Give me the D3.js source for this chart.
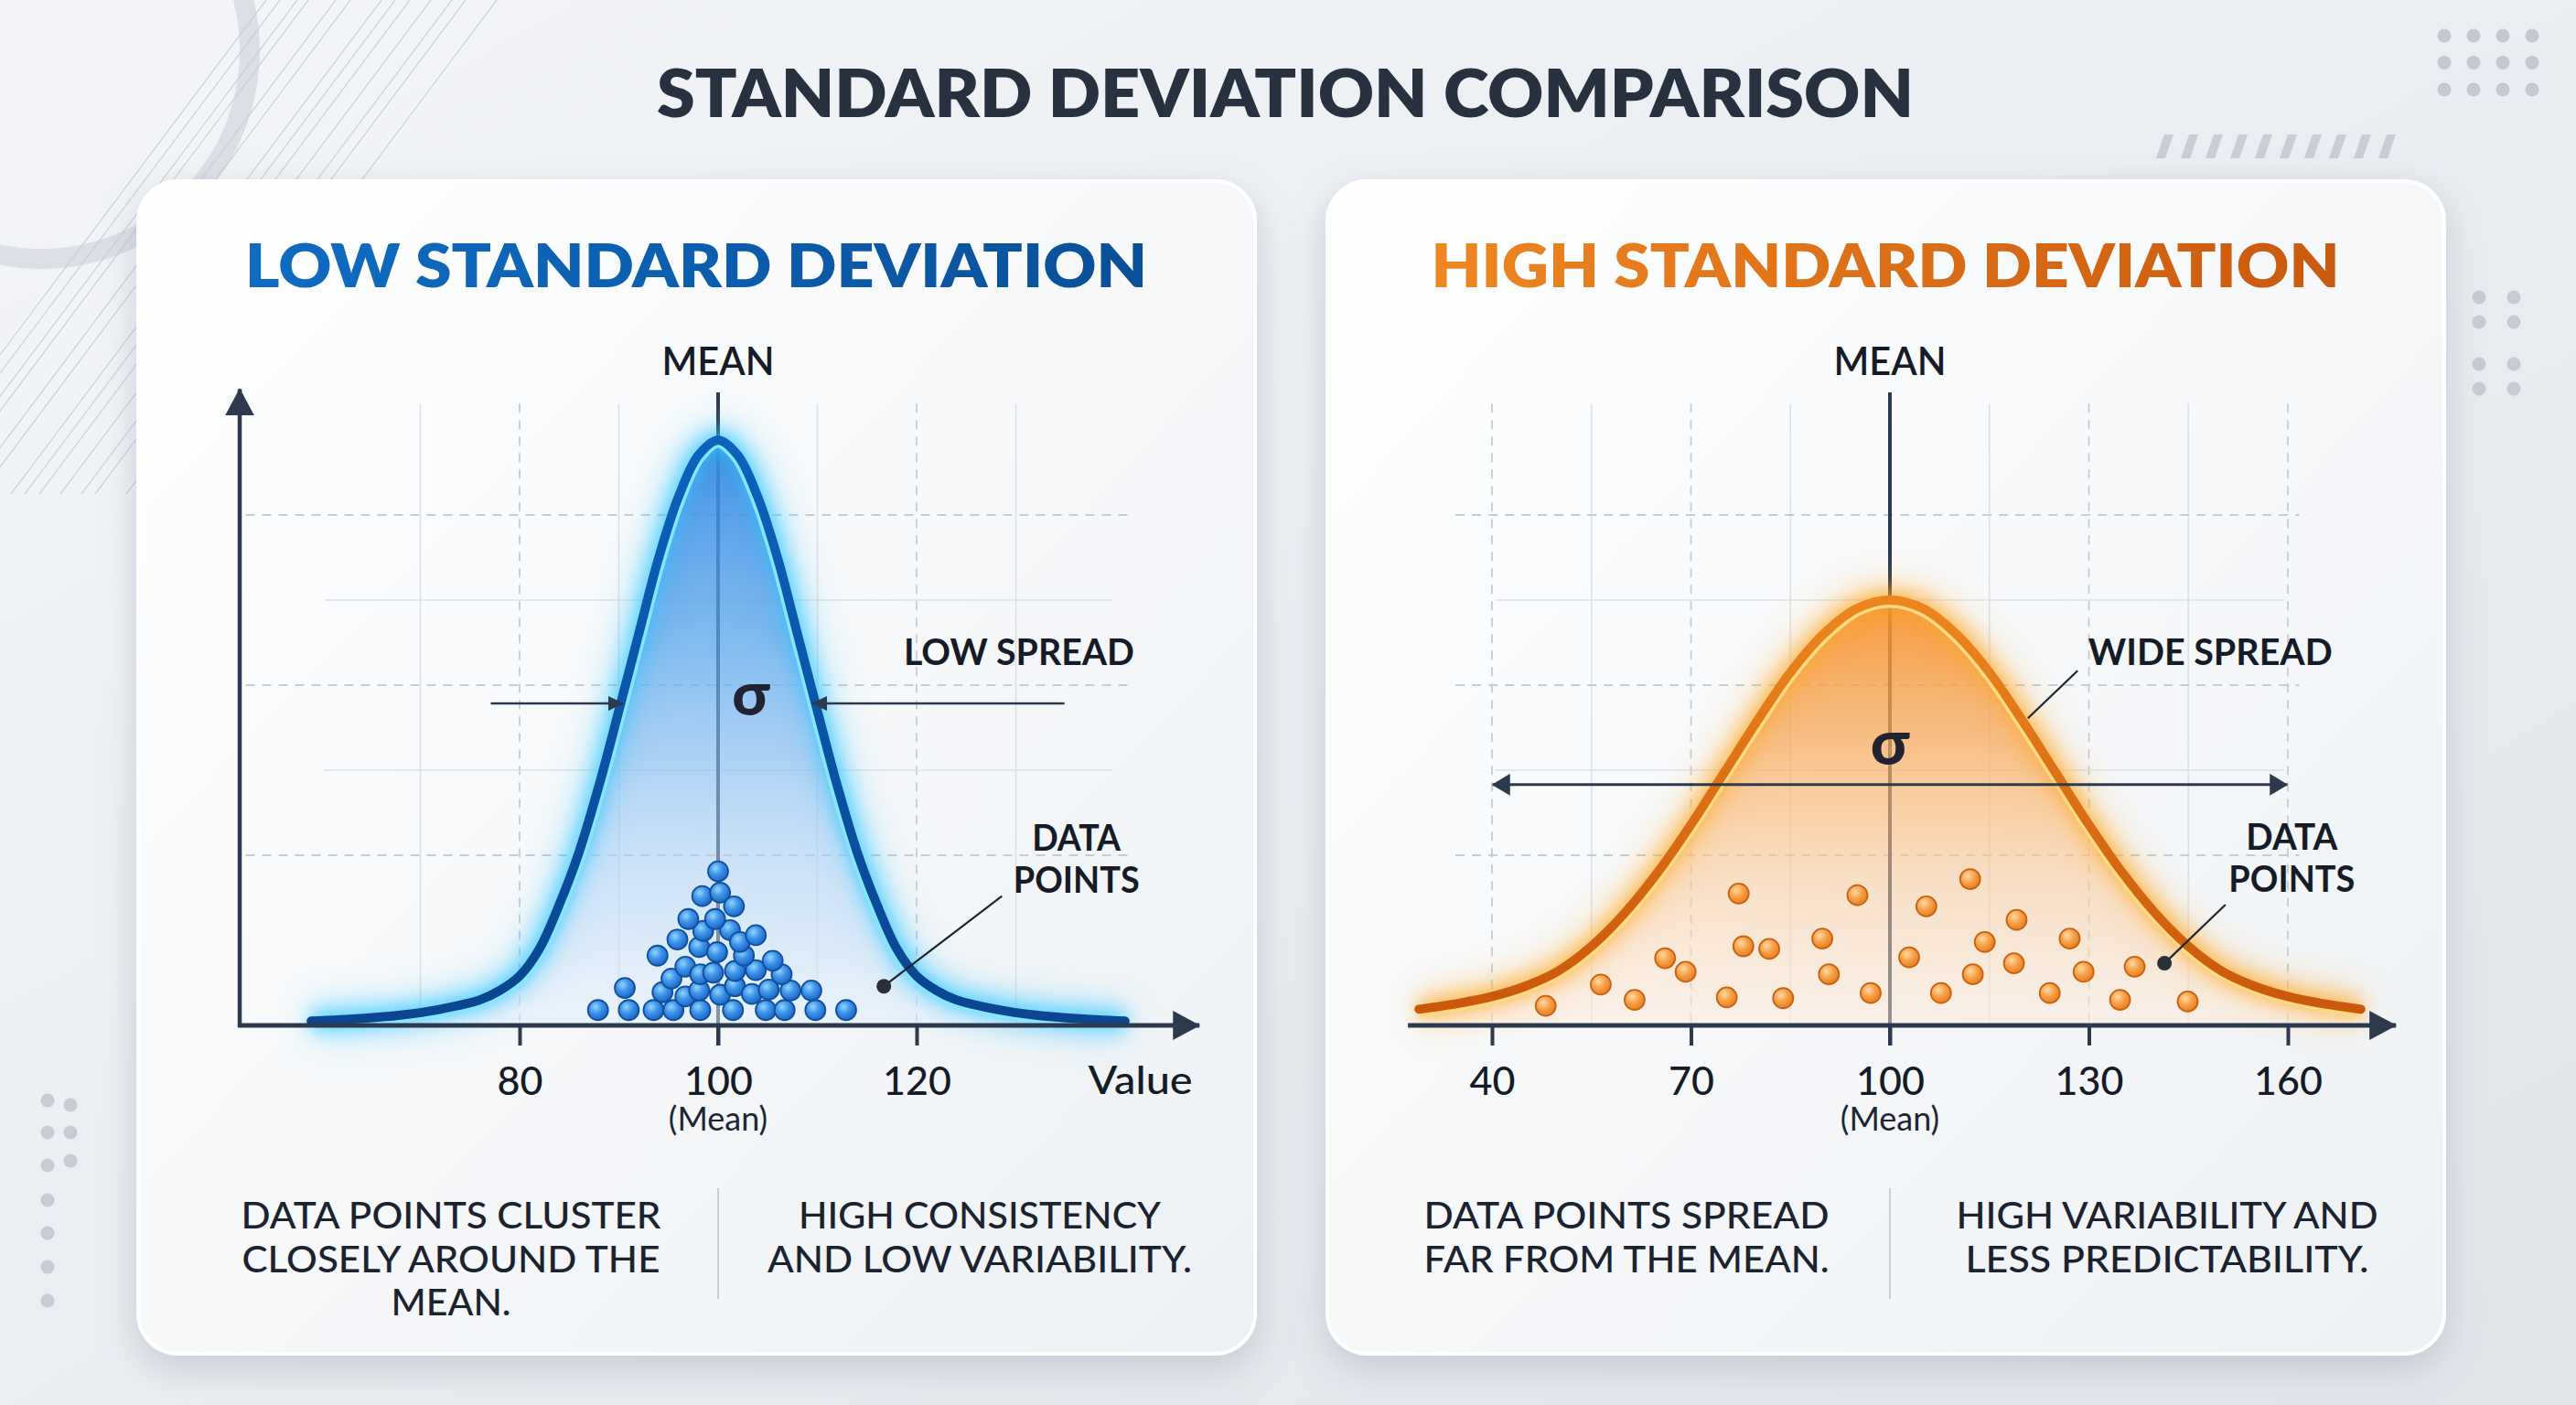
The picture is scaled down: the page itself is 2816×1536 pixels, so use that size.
<!DOCTYPE html>
<html><head><meta charset="utf-8">
<script src="https://cdn.jsdelivr.net/npm/d3@7"></script>
<style>html,body{margin:0;padding:0;background:#e9ecf0;overflow:hidden}svg{display:block}</style>
</head><body><svg id="chart" width="2816" height="1536"></svg>
<script>
// ================= DATA =================
const mainTitle = "STANDARD DEVIATION COMPARISON";
const panelTitles = ["LOW STANDARD DEVIATION", "HIGH STANDARD DEVIATION"];

// Low standard deviation curve (value, relative height)
const lowCurveX = [59,64,68,72,76,78,80,82,84,86,88,90,92,94,96,98,100,102,104,106,108,110,112,114,116,118,120,122,124,128,132,136,141];
const lowCurveH = [0.05,0.08,0.12,0.19,0.30,0.41,0.58,0.90,1.42,2.04,2.82,3.70,4.60,5.49,6.21,6.70,6.88,6.70,6.21,5.49,4.60,3.70,2.82,2.04,1.42,0.90,0.58,0.41,0.30,0.19,0.12,0.08,0.05];

// High standard deviation curve
const highCurveX = [29,35,40,45,50,55,60,65,70,75,80,85,90,95,100,105,110,115,120,125,130,135,140,145,150,155,160,165,171];
const highCurveH = [0.19,0.26,0.34,0.46,0.64,0.93,1.32,1.80,2.36,2.97,3.58,4.15,4.60,4.90,5.00,4.90,4.60,4.15,3.58,2.97,2.36,1.80,1.32,0.93,0.64,0.46,0.34,0.26,0.19];

// Data points (value, stacked height)
const lowDotsX = [87.9,91.0,93.5,95.5,98.2,101.5,104.8,106.7,109.8,112.9, 90.6,94.4,96.7,98.1,100.2,101.7,103.4,105.1,107.3,109.4, 95.3,96.7,98.2,99.5,101.7,103.8,106.4,105.5, 93.9,98.1,99.9,102.6,95.9,98.5,101.2,102.2,103.8, 97.0,99.7,98.4,100.2,101.6, 100.0];
const lowDotsH = [0.18,0.18,0.18,0.18,0.18,0.18,0.18,0.18,0.18,0.18, 0.44,0.39,0.34,0.41,0.36,0.46,0.37,0.42,0.41,0.41, 0.55,0.69,0.60,0.62,0.64,0.65,0.60,0.76, 0.82,0.92,0.86,0.82,1.01,1.11,1.12,0.98,1.06, 1.25,1.25,1.52,1.56,1.40, 1.81];

const highDotsX = [48.1,56.4,61.5,66.1,69.2,77.2,77.9,81.8,75.4,83.9,89.8,90.8,95.1,97.1,102.9,105.5,107.7,112.1,112.5,114.3,118.7,119.1,124.1,127.1,129.2,134.7,136.9,144.9];
const highDotsH = [0.23,0.48,0.30,0.79,0.63,1.55,0.93,0.90,0.33,0.32,1.02,0.60,1.53,0.38,0.80,1.40,0.38,1.72,0.60,0.98,0.73,1.24,0.38,1.02,0.63,0.30,0.69,0.28];

const lowTicks = [80, 100, 120];
const highTicks = [40, 70, 100, 130, 160];
const meanValue = 100;

const lowCaptionA = ["DATA POINTS CLUSTER", "CLOSELY AROUND THE", "MEAN."];
const lowCaptionB = ["HIGH CONSISTENCY", "AND LOW VARIABILITY."];
const highCaptionA = ["DATA POINTS SPREAD", "FAR FROM THE MEAN."];
const highCaptionB = ["HIGH VARIABILITY AND", "LESS PREDICTABILITY."];

// ================= LAYOUT =================
const W = 2816, H = 1536;
const FONT = 'Lato, "Open Sans", "Noto Sans", sans-serif';
const DARK = '#2d3a4e';
const INK = '#161c27';
const y = d3.scaleLinear().domain([0, 7.5]).range([1121, 423.5]);
const xL = d3.scaleLinear().domain([80, 120]).range([568, 1002]);
const xR = d3.scaleLinear().domain([40, 160]).range([1631, 2501]);

const svg = d3.select('#chart').attr('viewBox', `0 0 ${W} ${H}`);
const defs = svg.append('defs');

function linGrad(id, x1, y1, x2, y2, stops, user) {
  const g = defs.append('linearGradient').attr('id', id)
    .attr('x1', x1).attr('y1', y1).attr('x2', x2).attr('y2', y2);
  if (user) g.attr('gradientUnits', 'userSpaceOnUse');
  stops.forEach(s => g.append('stop').attr('offset', s[0]).attr('stop-color', s[1]).attr('stop-opacity', s[2] == null ? 1 : s[2]));
}
function radGrad(id, stops) {
  const g = defs.append('radialGradient').attr('id', id).attr('cx', '38%').attr('cy', '34%').attr('r', '70%');
  stops.forEach(s => g.append('stop').attr('offset', s[0]).attr('stop-color', s[1]));
}
linGrad('bg', 0, 0, 1, 1, [[0, '#f3f5f8'], [0.5, '#eaedf1'], [1, '#e2e6eb']]);
linGrad('panelFill', 0, 0, 1, 1, [[0, '#ffffff'], [0.5, '#f6f8fa'], [1, '#eef1f4']]);
linGrad('titleBlue', 0, 0, 1, 0, [[0, '#0f6cc2'], [1, '#0a4f98']]);
linGrad('titleOrange', 0, 0, 1, 0, [[0, '#ee8622'], [1, '#c9590e']]);
linGrad('fillBlue', 0, y(6.88), 0, y(0), [[0, '#3289e0', 0.92], [0.35, '#5aa6ec', 0.74], [0.7, '#a7cff3', 0.56], [1, '#e2effb', 0.5]], true);
linGrad('fillOrange', 0, y(5.0), 0, y(0), [[0, '#f58f28', 0.9], [0.35, '#f8ac5e', 0.72], [0.7, '#fbcf9f', 0.52], [1, '#fdeada', 0.5]], true);
linGrad('strokeBlue', 0, y(6.88), 0, y(0), [[0, '#0b63bb'], [1, '#0a4590']], true);
linGrad('strokeOrange', 0, y(5.0), 0, y(0), [[0, '#ec861c'], [1, '#c9560a']], true);
radGrad('dotBlue', [[0, '#92d4ff'], [0.45, '#3f95e8'], [1, '#1a62c4']]);
radGrad('dotOrange', [[0, '#ffd9a0'], [0.5, '#f7a048'], [1, '#e57c1e']]);

const fShadow = defs.append('filter').attr('id', 'shadow').attr('x', '-10%').attr('y', '-10%').attr('width', '120%').attr('height', '125%');
fShadow.append('feDropShadow').attr('dx', 0).attr('dy', 14).attr('stdDeviation', 20).attr('flood-color', '#7d8899').attr('flood-opacity', 0.32);
const fBlur = defs.append('filter').attr('id', 'glow').attr('x', '-20%').attr('y', '-20%').attr('width', '140%').attr('height', '140%');
fBlur.append('feGaussianBlur').attr('stdDeviation', 9);
const fBlur2 = defs.append('filter').attr('id', 'glowSoft').attr('x', '-20%').attr('y', '-20%').attr('width', '140%').attr('height', '140%');
fBlur2.append('feGaussianBlur').attr('stdDeviation', 18);

function marker(id, len, half) {
  defs.append('marker').attr('id', id).attr('viewBox', `0 ${-half} ${len} ${2 * half}`)
    .attr('refX', len - 1).attr('refY', 0).attr('markerWidth', len).attr('markerHeight', 2 * half)
    .attr('markerUnits', 'userSpaceOnUse').attr('orient', 'auto-start-reverse')
    .append('path').attr('d', `M0,${-half}L${len},0L0,${half}Z`).attr('fill', DARK);
}
marker('arrAxis', 30, 16);
marker('arrSmall', 17, 8);
marker('arrMid', 20, 12);

// ---------- background ----------
svg.append('rect').attr('width', W).attr('height', H).attr('fill', 'url(#bg)');
const deco = svg.append('g');
deco.append('circle').attr('cx', 45).attr('cy', 55).attr('r', 228).attr('fill', 'none')
  .attr('stroke', '#dce0e6').attr('stroke-width', 22);
[291, 306, 325, 337, 367, 383, 417, 432, 448, 471, 494, 509, 543].forEach(x0 => {
  const L = 540;
  deco.append('line').attr('x1', x0).attr('y1', 0).attr('x2', x0 - 0.75 * L).attr('y2', L)
    .attr('stroke', '#c3cad3').attr('stroke-width', 1.3).attr('opacity', 0.75);
});
for (let c = 0; c < 4; c++) for (let r = 0; r < 3; r++)
  deco.append('circle').attr('cx', 2672 + c * 32).attr('cy', 39 + r * 29.5).attr('r', 7.5).attr('fill', '#c3c9d1');
[[2710, 325], [2748, 325], [2710, 352], [2748, 352], [2710, 398], [2748, 398], [2710, 425], [2748, 425]].forEach(p =>
  deco.append('circle').attr('cx', p[0]).attr('cy', p[1]).attr('r', 7.5).attr('fill', '#c6ccd4'));
[1203, 1238, 1274, 1312, 1348, 1385, 1422].forEach(yy => deco.append('circle').attr('cx', 52).attr('cy', yy).attr('r', 7.5).attr('fill', '#c6ccd4'));
[1208, 1238, 1269].forEach(yy => deco.append('circle').attr('cx', 77).attr('cy', yy).attr('r', 7.5).attr('fill', '#c6ccd4'));
for (let i = 0; i < 10; i++) {
  const x0 = 2357 + i * 27;
  deco.append('path').attr('d', `M${x0},173L${x0 + 10},173L${x0 + 19},147L${x0 + 9},147Z`).attr('fill', '#c8ced6');
}

function addText(g, s, x, yb, o) {
  const t = g.append('text').attr('x', x).attr('y', yb).text(s)
    .attr('font-family', FONT).attr('font-size', o.size).attr('font-weight', o.weight || 700)
    .attr('fill', o.fill || INK).attr('text-anchor', o.anchor || 'middle');
  if (o.width) t.attr('textLength', o.width).attr('lengthAdjust', 'spacingAndGlyphs');
  return t;
}

addText(svg, mainTitle, 1405, 128, { size: 71, weight: 800, fill: '#27313f', width: 1374 });

// ---------- panels ----------
const panels = [
  {
    id: 'L', x: xL, box: [151, 198, 1221, 1282], title: panelTitles[0], titleX: 761, titleW: 986, titleFill: 'url(#titleBlue)',
    curveX: lowCurveX, curveH: lowCurveH, dotsX: lowDotsX, dotsH: lowDotsH, ticks: lowTicks,
    axis: [51.8, 148.5], yAxis: true,
    gridV: [[70, 0], [80, 1], [90, 0], [110, 0], [120, 1], [130, 0]],
    gridHD: [52.4, 141.6], gridHS: [60.3, 139.8],
    fill: 'url(#fillBlue)', stroke: 'url(#strokeBlue)', glow: '#2fc6ff', inner: '#86e6ff', dotFill: 'url(#dotBlue)', dotStroke: '#0e4f9f',
    capA: lowCaptionA, capB: lowCaptionB, capAX: 493, capBX: 1071,
    capAW: [459, 457, 131], capBW: [396, 464]
  },
  {
    id: 'R', x: xR, box: [1451, 198, 1221, 1282], title: panelTitles[1], titleX: 2061, titleW: 993, titleFill: 'url(#titleOrange)',
    curveX: highCurveX, curveH: highCurveH, dotsX: highDotsX, dotsH: highDotsH, ticks: highTicks,
    axis: [27.6, 176.3], yAxis: false,
    gridV: [[40, 1], [55, 0], [70, 1], [85, 0], [115, 0], [130, 1], [145, 0], [160, 1]],
    gridHD: [34.5, 161.7], gridHS: [40.4, 159.4],
    fill: 'url(#fillOrange)', stroke: 'url(#strokeOrange)', glow: '#ffa928', inner: '#ffd983', dotFill: 'url(#dotOrange)', dotStroke: '#c9620f',
    capA: highCaptionA, capB: highCaptionB, capAX: 1778, capBX: 2369,
    capAW: [443, 443], capBW: [461, 441]
  }
];

panels.forEach(P => {
  const x = P.x;
  const g = svg.append('g');
  const [bx, by, bw, bh] = P.box;
  g.append('rect').attr('x', bx).attr('y', by).attr('width', bw).attr('height', bh).attr('rx', 44)
    .attr('fill', 'url(#panelFill)').attr('stroke', '#ffffff').attr('stroke-width', 4).attr('filter', 'url(#shadow)');

  addText(g, P.title, P.titleX, 314, { size: 66, weight: 800, fill: P.titleFill, width: P.titleW });

  // grid
  const grid = g.append('g');
  P.gridV.forEach(([v, dashed]) => {
    grid.append('line').attr('x1', x(v)).attr('x2', x(v)).attr('y1', y(7.31)).attr('y2', y(0))
      .attr('stroke', dashed ? '#c6ccd4' : '#dde1e6').attr('stroke-width', dashed ? 1.8 : 1.6)
      .attr('stroke-dasharray', dashed ? '10 8' : null);
  });
  [2, 3, 4, 5, 6].forEach(h => {
    const dashed = h % 2 === 0;
    const span = dashed ? P.gridHD : P.gridHS;
    grid.append('line').attr('x1', x(span[0])).attr('x2', x(span[1])).attr('y1', y(h)).attr('y2', y(h))
      .attr('stroke', dashed ? '#c6ccd4' : '#dde1e6').attr('stroke-width', dashed ? 1.8 : 1.6)
      .attr('stroke-dasharray', dashed ? '10 8' : null);
  });

  // mean line (under the fill)
  g.append('line').attr('x1', x(meanValue)).attr('x2', x(meanValue)).attr('y1', y(7.44)).attr('y2', y(0) + 22)
    .attr('stroke', DARK).attr('stroke-width', 4);

  const pts = P.curveX.map((v, i) => ({ v, h: P.curveH[i] }));
  const line = d3.line().x(d => x(d.v)).y(d => y(d.h)).curve(d3.curveCatmullRom.alpha(0.5));
  const area = d3.area().x(d => x(d.v)).y0(y(0)).y1(d => y(d.h)).curve(d3.curveCatmullRom.alpha(0.5));

  // soft glow of fill + stroke
  g.append('path').attr('d', line(pts)).attr('fill', 'none').attr('stroke', P.glow)
    .attr('stroke-width', 40).attr('opacity', 0.35).attr('filter', 'url(#glowSoft)');
  g.append('path').attr('d', area(pts)).attr('fill', P.fill);
  g.append('path').attr('d', line(pts)).attr('fill', 'none').attr('stroke', P.glow)
    .attr('stroke-width', 18).attr('opacity', 0.75).attr('filter', 'url(#glow)');

  // inner highlight clipped inside the area
  defs.append('clipPath').attr('id', 'clip' + P.id).append('path').attr('d', area(pts));
  g.append('path').attr('d', line(pts)).attr('fill', 'none').attr('stroke', P.inner)
    .attr('stroke-width', 17).attr('clip-path', `url(#clip${P.id})`);
  g.append('path').attr('d', line(pts)).attr('fill', 'none').attr('stroke', P.stroke)
    .attr('stroke-width', 10).attr('stroke-linecap', 'round');

  // axes
  if (P.yAxis) {
    g.append('line').attr('x1', x(P.axis[0])).attr('x2', x(P.axis[0])).attr('y1', y(0) + 2).attr('y2', y(7.48))
      .attr('stroke', DARK).attr('stroke-width', 4.5).attr('marker-end', 'url(#arrAxis)');
  }
  g.append('line').attr('x1', x(P.axis[0]) - 2).attr('x2', x(P.axis[1])).attr('y1', y(0)).attr('y2', y(0))
    .attr('stroke', DARK).attr('stroke-width', 5).attr('marker-end', 'url(#arrAxis)');

  const ax = d3.axisBottom(x).tickValues(P.ticks).tickSize(22).tickPadding(23).tickFormat(d3.format('d'));
  const axG = g.append('g').attr('transform', `translate(0,${y(0)})`).call(ax);
  axG.select('.domain').remove();
  axG.selectAll('.tick line').attr('stroke', DARK).attr('stroke-width', 4);
  axG.selectAll('.tick text').attr('font-family', FONT).attr('font-size', 43).attr('font-weight', 500).attr('fill', INK);
  addText(g, '(Mean)', x(meanValue), 1236, { size: 36, weight: 400, fill: '#1f2633' });

  // dots
  const dots = P.dotsX.map((v, i) => ({ v, h: P.dotsH[i] }));
  g.append('g').selectAll('circle').data(dots).join('circle')
    .attr('cx', d => x(d.v)).attr('cy', d => y(d.h)).attr('r', 11)
    .attr('fill', P.dotFill).attr('stroke', P.dotStroke).attr('stroke-width', 1.8);

  // captions
  P.capA.forEach((s, i) => addText(g, s, P.capAX, 1343 + i * 47.5, { size: 40, weight: 500, fill: '#1c2330', width: P.capAW[i] }));
  P.capB.forEach((s, i) => addText(g, s, P.capBX, 1343 + i * 47.5, { size: 40, weight: 500, fill: '#1c2330', width: P.capBW[i] }));
  g.append('line').attr('x1', x(meanValue)).attr('x2', x(meanValue)).attr('y1', 1299).attr('y2', 1420)
    .attr('stroke', '#c9ced5').attr('stroke-width', 2);

  addText(g, 'MEAN', x(meanValue), 410, { size: 42, weight: 600, fill: INK, width: 123 });
  P.g = g;
});

// ---------- annotations: low panel ----------
const gL = panels[0].g, gR = panels[1].g;
gL.append('line').attr('x1', xL(77.1)).attr('x2', xL(90.4)).attr('y1', y(3.785)).attr('y2', y(3.785))
  .attr('stroke', DARK).attr('stroke-width', 2.5).attr('marker-end', 'url(#arrSmall)');
gL.append('line').attr('x1', xL(134.9)).attr('x2', xL(109.5)).attr('y1', y(3.785)).attr('y2', y(3.785))
  .attr('stroke', DARK).attr('stroke-width', 2.5).attr('marker-end', 'url(#arrSmall)');
addText(gL, 'σ', xL(103.3), 782, { size: 66, weight: 900, fill: '#1f2430' });
addText(gL, 'LOW SPREAD', xL(118.7), 727, { size: 40, weight: 700, anchor: 'start', width: 252 });
addText(gL, 'DATA', xL(136.1), 930, { size: 40, weight: 700, width: 97 });
addText(gL, 'POINTS', xL(136.1), 976, { size: 40, weight: 700, width: 138 });
gL.append('line').attr('x1', xL(128.6)).attr('y1', y(1.52)).attr('x2', xL(116.7)).attr('y2', y(0.46))
  .attr('stroke', '#1e2430').attr('stroke-width', 2.2);
gL.append('circle').attr('cx', xL(116.7)).attr('cy', y(0.46)).attr('r', 8).attr('fill', '#2a2f38');
addText(gL, 'Value', xL(147.8), 1196, { size: 43, weight: 500, anchor: 'end', width: 114 });

// ---------- annotations: high panel ----------
gR.append('line').attr('x1', xR(40.1)).attr('x2', xR(159.9)).attr('y1', y(2.83)).attr('y2', y(2.83))
  .attr('stroke', DARK).attr('stroke-width', 3)
  .attr('marker-start', 'url(#arrMid)').attr('marker-end', 'url(#arrMid)');
addText(gR, 'σ', xR(100), 836, { size: 68, weight: 900, fill: '#1f2430' });
addText(gR, 'WIDE SPREAD', xR(129.9), 727, { size: 40, weight: 700, anchor: 'start', width: 267 });
gR.append('line').attr('x1', xR(128.3)).attr('y1', y(4.17)).attr('x2', xR(120.8)).attr('y2', y(3.61))
  .attr('stroke', '#1e2430').attr('stroke-width', 2.2);
addText(gR, 'DATA', xR(160.6), 929, { size: 40, weight: 700, width: 100 });
addText(gR, 'POINTS', xR(160.6), 975, { size: 40, weight: 700, width: 138 });
gR.append('line').attr('x1', xR(150.6)).attr('y1', y(1.42)).attr('x2', xR(141.4)).attr('y2', y(0.73))
  .attr('stroke', '#1e2430').attr('stroke-width', 2.2);
gR.append('circle').attr('cx', xR(141.4)).attr('cy', y(0.73)).attr('r', 8).attr('fill', '#2a2f38');
</script></body></html>
